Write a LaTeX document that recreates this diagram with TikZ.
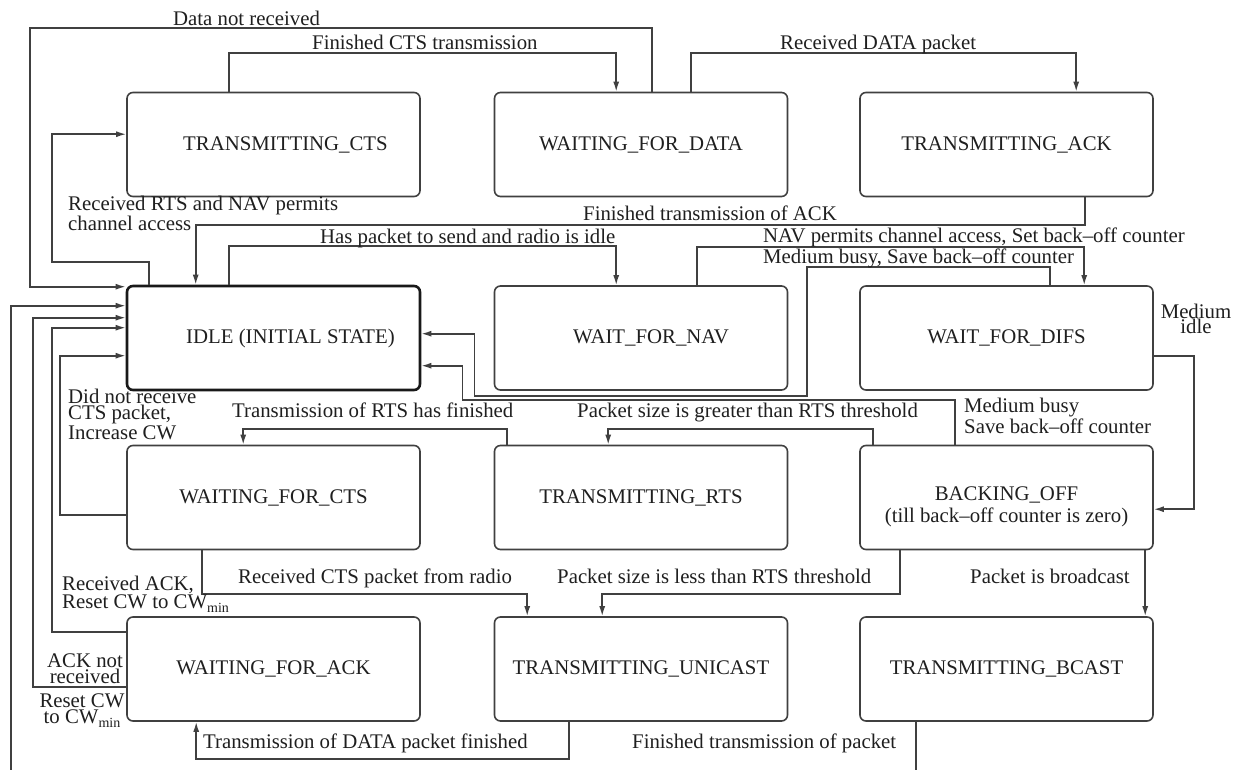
\documentclass[tikz,border=0pt]{standalone}
\usepackage{fontspec}
\setmainfont{Liberation Serif}
\usetikzlibrary{arrows.meta}
% CW with a lowered "min" index
\newcommand\cwmin{CW\raisebox{-4pt}{\fontsize{14}{14}\selectfont min}}

\begin{document}
\begin{tikzpicture}[x=1pt,y=-1pt,
  every node/.style={font=\fontsize{20.8}{17}\selectfont, text=black!88},
  state/.style={draw=black!75, line width=1.6pt, rounded corners=6pt,
    minimum width=293pt, minimum height=104pt, inner sep=0pt, fill=white},
  startstate/.style={state, draw=black!90, line width=2.6pt},
  flow/.style={draw=black!75, line width=1.6pt, -{Latex[length=10pt,width=6pt]}},
  lbl/.style={inner sep=0pt, anchor=base west},
  lblr/.style={inner sep=0pt, anchor=base},
]
\fill[white] (0,0) rectangle (1237,769);
\path[use as bounding box] (0,0) rectangle (1237,769);
\clip (0,0) rectangle (1237,769);

% states
\node[state] (tcts)  at (273.5,144.5) {\hspace*{24pt}TRANSMITTING\_CTS};
\node[state] (wdata) at (641,144.5)   {WAITING\_FOR\_DATA};
\node[state] (tack)  at (1006.5,144.5){TRANSMITTING\_ACK};
\node[startstate] (idle) at (273.5,338) {\hspace*{34pt}IDLE (INITIAL STATE)};
\node[state] (wnav)  at (641,338)     {\hspace*{20pt}WAIT\_FOR\_NAV};
\node[state] (wdifs) at (1006.5,338)  {WAIT\_FOR\_DIFS};
\node[state] (wcts)  at (273.5,497.5) {WAITING\_FOR\_CTS};
\node[state] (trts)  at (641,497.5)   {TRANSMITTING\_RTS};
\node[state] (boff)  at (1006.5,497.5){};
\node[align=center, inner sep=0pt, font=\fontsize{20.8}{22}\selectfont] (bofftext)
  at ([yshift=-9pt]boff.center) {BACKING\_OFF\\(till back--off counter is zero)};
\node[state] (wack)  at (273.5,669)   {WAITING\_FOR\_ACK};
\node[state] (tuni)  at (641,669)     {TRANSMITTING\_UNICAST};
\node[state] (tbc)   at (1006.5,669)  {TRANSMITTING\_BCAST};

% transitions
\draw[flow] ([xshift=103pt]tcts.north west) -- ++(0,-38.5) -| ([xshift=122.5pt]wdata.north west);
\draw[flow] ([xshift=197.5pt]wdata.north west) -- ++(0,-38.5) -| ([xshift=217pt]tack.north west);
\draw[flow] ([xshift=158.5pt]wdata.north west) -- ++(0,-63.5)
  -| ([xshift=-96pt,yshift=-2pt]idle.north west) -- ([yshift=-2pt]idle.north west);
\draw[flow] ([xshift=23pt]idle.north west) -- ++(0,-23)
  -| ([xshift=-74pt,yshift=-42.5pt]tcts.north west) -- ([yshift=-42.5pt]tcts.north west);
\draw[flow] ([xshift=226pt]tack.south west) -- ++(0,27.5) -| ([xshift=70pt]idle.north west);
\draw[flow] ([xshift=103pt]idle.north west) -- ++(0,-39) -| ([xshift=122.5pt]wnav.north west);
\draw[flow] ([xshift=203.5pt]wnav.north west) -- ++(0,-38.5) -| ([xshift=225pt]wdifs.north west);
\draw[flow] ([xshift=191pt]wdifs.north west) -- ++(0,-18)
  -| ([xshift=18.5pt,yshift=-5pt]wnav.south east)
  -| ([xshift=53pt,yshift=-49pt]idle.north east) -- ([yshift=-49pt]idle.north east);
\draw[flow] ([xshift=96pt]boff.north west) -- ++(0,-44.5)
  -| ([xshift=41pt,yshift=-81pt]idle.north east) -- ([yshift=-81pt]idle.north east);
\draw[flow] ([yshift=-71pt]wdifs.north east) -- ++(40,0) |- ([yshift=-64.5pt]boff.north east);
\draw[flow] ([xshift=14pt]boff.north west) -- ++(0,-15.5) -| ([xshift=114.5pt]trts.north west);
\draw[flow] ([xshift=13.5pt]trts.north west) -- ++(0,-15.5) -| ([xshift=117pt]wcts.north west);
\draw[flow] ([yshift=-70.5pt]wcts.north west) -- ++(-66,0) |- ([yshift=-71pt]idle.north west);
\draw[flow] ([xshift=76pt]wcts.south west) -- ++(0,43.5) -| ([xshift=33.5pt]tuni.north west);
\draw[flow] ([xshift=41pt]boff.south west) -- ++(0,43.5) -| ([xshift=108.5pt]tuni.north west);
\draw[flow] ([xshift=286pt]boff.south west) -- ([xshift=286pt]tbc.north west);
\draw[flow] ([xshift=75.5pt]tuni.south west) -- ++(0,37) -| ([xshift=70pt]wack.south west);
\draw[flow] ([yshift=-16pt]wack.north west) -- ++(-74,0) |- ([yshift=-43pt]idle.north west);
\draw[flow] ([yshift=-71pt]wack.north west) -- ++(-93,0) |- ([yshift=-33pt]idle.north west);
\draw[flow] ([xshift=57pt]tbc.south west) -- ++(0,64)
  -| ([xshift=-115pt,yshift=-21pt]idle.north west) -- ([yshift=-21pt]idle.north west);

% transition labels (multi-line labels sit on the baseline of their last line)
\node[lbl] (l1) at (173,25) {Data not received};
\node[lbl] (l2) at (312,49) {Finished CTS transmission};
\node[lbl] (l3) at (780,49) {Received DATA packet};
\node[lbl, align=left, font=\fontsize{20.8}{15}\selectfont] (l4) at (68,230)
  {Received RTS and NAV permits\\channel access};
\node[lbl] (l5) at (583,220) {Finished transmission of ACK};
\node[lbl] (l6) at (320,243) {Has packet to send and radio is idle};
\node[lbl] (l7) at (763,242) {NAV permits channel access, Set back--off counter};
\node[lbl] (l8) at (763,263) {Medium busy, Save back--off counter};
\node[lblr, align=center, font=\fontsize{20.8}{15}\selectfont] (l9) at (1196,333) {Medium\\idle};
\node[lbl, align=left, font=\fontsize{20.8}{16}\selectfont] (l10) at (68,439)
  {Did not receive\\CTS packet,\\Increase CW};
\node[lbl] (l11) at (232,417) {Transmission of RTS has finished};
\node[lbl] (l12) at (577,417) {Packet size is greater than RTS threshold};
\node[lbl, align=left, font=\fontsize{20.8}{21}\selectfont] (l13) at (964,433)
  {Medium busy\\Save back--off counter};
\node[lbl, align=left, font=\fontsize{20.8}{16}\selectfont] (l14) at (62,608)
  {Received ACK,\\Reset CW to \cwmin};
\node[lbl] (l15) at (238,583) {Received CTS packet from radio};
\node[lbl] (l16) at (557,583) {Packet size is less than RTS threshold};
\node[lbl] (l17) at (970,583) {Packet is broadcast};
\node[lblr, align=center, font=\fontsize{20.8}{14}\selectfont] (l18) at (85,683) {ACK not\\received};
\node[lblr, align=center, font=\fontsize{20.8}{16}\selectfont] (l19) at (82,723) {Reset CW\\to \cwmin};
\node[lbl] (l20) at (203,748) {Transmission of DATA packet finished};
\node[lbl] (l21) at (632,748) {Finished transmission of packet};
\end{tikzpicture}
\end{document}
